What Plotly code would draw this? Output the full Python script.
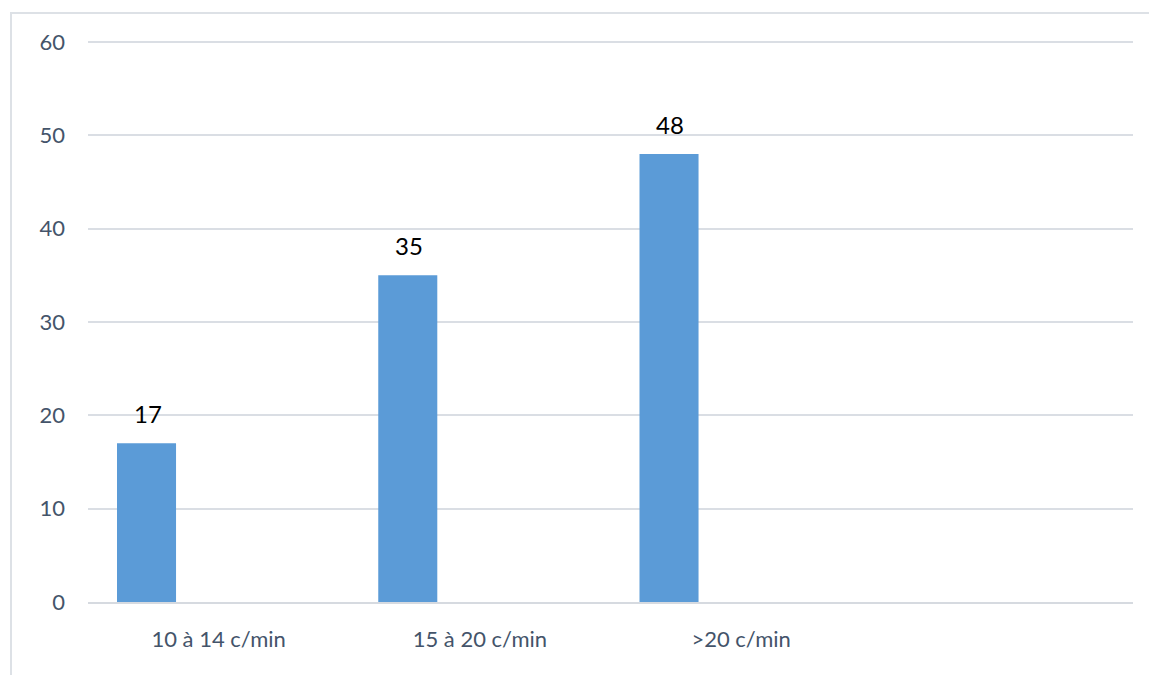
import plotly.graph_objects as go

categories = ["10 à 14 c/min", "15 à 20 c/min", ">20 c/min", " "]
values = [17, 35, 48, None]
y_ticks = [0, 10, 20, 30, 40, 50, 60]

W, H = 1149, 675
ML, MR, MT, MB = 88, 16, 40, 73
pw = W - ML - MR
ph = H - MT - MB
y_top = 60 + 2 * 60 / 560  # small headroom so the 60 gridline is drawn

fig = go.Figure()
fig.add_trace(go.Bar(
    x=categories, y=values,
    width=0.226, offset=-0.389,
    marker=dict(color="#5b9bd7", line=dict(width=0)),
    hoverinfo="x+y",
))

for c, v in zip(categories, values):
    if v is None:
        continue
    fig.add_annotation(x=c, y=v, text=str(v), showarrow=False,
                       xshift=-71, yshift=13, yanchor="bottom",
                       font=dict(family="Lato", size=24, color="#000000"))

def px_x(p):
    return (p - ML) / pw
def px_y(p):
    return 1 - (p - MT) / ph

fig.add_shape(type="rect", xref="paper", yref="paper",
              x0=px_x(11), x1=px_x(1152), y0=px_y(679), y1=px_y(13),
              line=dict(color="#dde1e6", width=2), fillcolor="rgba(0,0,0,0)",
              layer="below")

fig.update_layout(
    width=W, height=H,
    margin=dict(l=ML, r=MR, t=MT, b=MB),
    paper_bgcolor="white", plot_bgcolor="white",
    showlegend=False,
    font=dict(family="Lato", size=22, color="#44546a"),
    xaxis=dict(type="category", categoryarray=categories, range=[-0.5, 3.5],
               showgrid=False, showline=True, linecolor="#d6dae0", linewidth=2,
               ticks="", ticklabelstandoff=17, tickfont=dict(size=22, color="#44546a")),
    yaxis=dict(range=[0, y_top], tickvals=y_ticks, showgrid=True, gridcolor="#dadee4",
               gridwidth=1.5, zeroline=False, showline=False, ticks="",
               ticklabelstandoff=22, tickfont=dict(size=22, color="#44546a")),
)

fig.write_html("out.html")
